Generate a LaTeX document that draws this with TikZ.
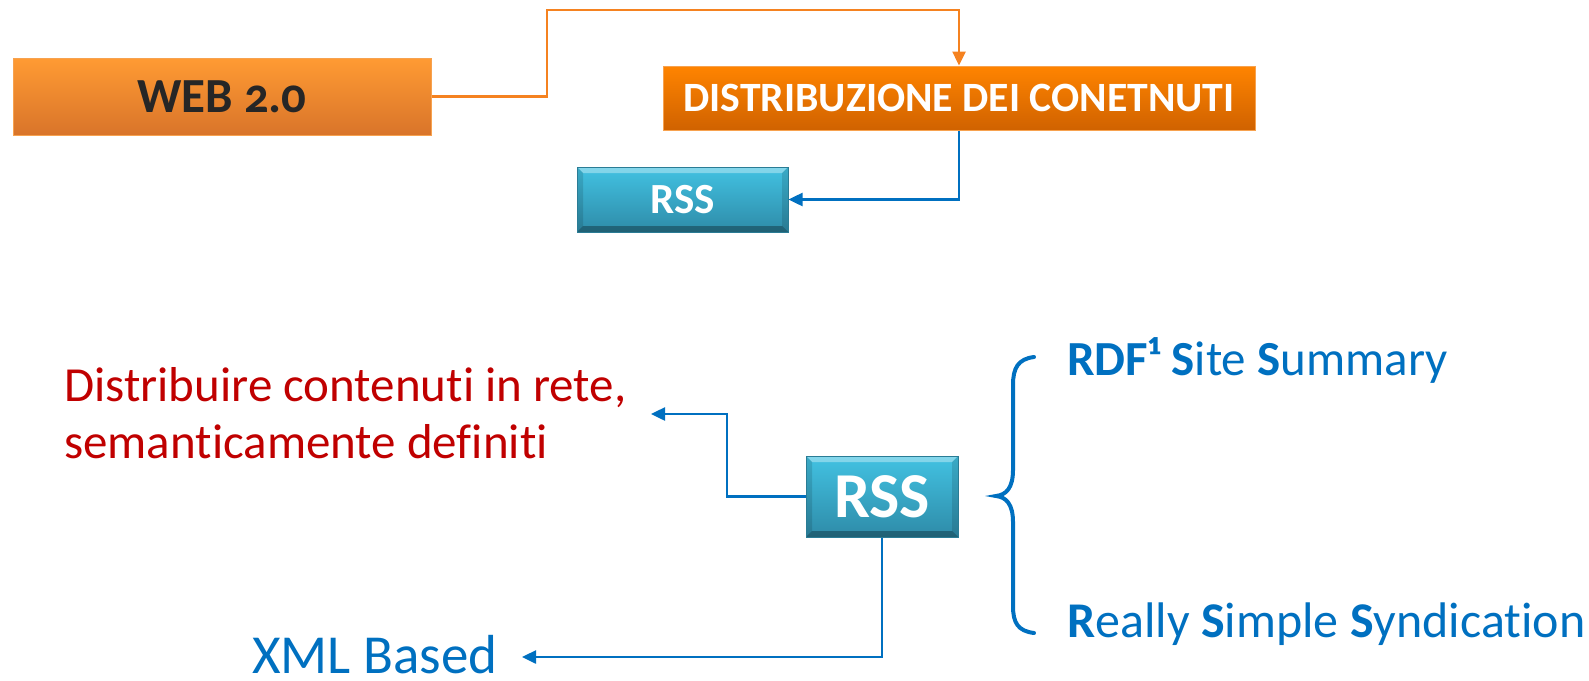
\documentclass[tikz,border=0pt]{standalone}
\usepackage{fontspec}
\setmainfont{Carlito}[RawFeature={-liga;-clig;-calt;-dlig}]
\newfontfamily\oldnum{Carlito}[Numbers=OldStyle]
\usetikzlibrary{arrows.meta,calc}
\definecolor{orTop}{HTML}{FF9B33}
\definecolor{orBot}{HTML}{D9742A}
\definecolor{orEdge}{HTML}{F7A24F}
\definecolor{dTop}{HTML}{FF8400}
\definecolor{dBot}{HTML}{D06200}
\definecolor{cyTop}{HTML}{42C2E2}
\definecolor{cyBot}{HTML}{2E8BA8}
\definecolor{cyEdge}{HTML}{2A7C95}
\definecolor{lineOr}{HTML}{F58220}
\definecolor{lineBl}{HTML}{0070C0}
\definecolor{txRed}{HTML}{C00000}
\definecolor{txDark}{HTML}{262626}
\tikzset{
  webbox/.style={draw=orEdge, line width=1pt, top color=orTop, bottom color=orBot, inner sep=0pt},
  distbox/.style={draw=orEdge, line width=1pt, top color=dTop, bottom color=dBot, inner sep=0pt},
  cyanbox/.style={draw=cyEdge, line width=1pt, top color=cyTop, bottom color=cyBot, inner sep=0pt,
    text=white, font=\bfseries,
    path picture={
      \fill[white,opacity=0.35] (path picture bounding box.north west) -- (path picture bounding box.north east)
        -- ([shift={(-6pt,-6pt)}]path picture bounding box.north east) -- ([shift={(6pt,-6pt)}]path picture bounding box.north west) -- cycle;
      \fill[black,opacity=0.3] (path picture bounding box.south west) -- (path picture bounding box.south east)
        -- ([shift={(-6pt,6pt)}]path picture bounding box.south east) -- ([shift={(6pt,6pt)}]path picture bounding box.south west) -- cycle;
      \fill[black,opacity=0.12] (path picture bounding box.north west) -- ([shift={(6pt,-6pt)}]path picture bounding box.north west)
        -- ([shift={(6pt,6pt)}]path picture bounding box.south west) -- (path picture bounding box.south west) -- cycle;
      \fill[black,opacity=0.12] (path picture bounding box.north east) -- ([shift={(-6pt,-6pt)}]path picture bounding box.north east)
        -- ([shift={(-6pt,6pt)}]path picture bounding box.south east) -- (path picture bounding box.south east) -- cycle;
    }},
  orconn/.style={draw=lineOr, line width=2.5pt, -{Triangle[length=14pt,width=13pt]}},
  blconn/.style={draw=lineBl, line width=2.5pt, -{Triangle[length=14pt,width=13pt]}},
  bigtext/.style={font=\fontsize{49}{57}\selectfont, inner sep=0pt}
}
\begin{document}
\begin{tikzpicture}[x=1pt,y=-1pt]
\useasboundingbox (0,0) rectangle (1589,680);
% boxes
\node[webbox, minimum width=418pt, minimum height=77pt, text=txDark, font=\fontsize{49}{56}\selectfont\bfseries] (web) at (222,96.5) {WEB {\oldnum 2.0}};
\node[distbox, minimum width=592pt, minimum height=64pt, text=white, font=\fontsize{41.7}{48}\selectfont\bfseries] (dist) at (959,98) {DISTRIBUZIONE DEI CONETNUTI};
\node[cyanbox, minimum width=211pt, minimum height=65pt, font=\fontsize{43}{48}\selectfont\bfseries] (rss1) at (682.5,199.5) {RSS};
\node[cyanbox, minimum width=152pt, minimum height=81pt, font=\fontsize{64}{70}\selectfont\bfseries] (rss2) at (882,496.5) {RSS};
% texts
\node[bigtext, text=txRed, align=left, anchor=north west] (red) at (64,367) {Distribuire contenuti in rete,\\semanticamente definiti};
\node[bigtext, text=lineBl, anchor=base west, text depth=0pt, font=\fontsize{55}{60}\selectfont] (xml) at (252,673) {XML Based};
\node[bigtext, text=lineBl, anchor=base west] (rdf) at (1067,375) {\textbf{RDF¹ S}ite \textbf{S}ummary};
\node[bigtext, text=lineBl, anchor=base west, font=\fontsize{50}{57}\selectfont] (rsd) at (1067,637) {\textbf{R}eally \textbf{S}imple \textbf{S}yndication};
% connectors
\coordinate (o1) at (547,10);
\draw[orconn] (web.east) -| (o1) -| (dist.north);
\draw[blconn] (dist.south) |- (rss1.east);
\coordinate (b1) at (727,414);
\coordinate (redtip) at (651,414);
\draw[blconn] (rss2.west) -| (b1) -- (redtip);
\coordinate (xmltip) at (522,657);
\draw[blconn] (rss2.south) |- (xmltip);
% brace
\draw[lineBl, line width=4pt, line cap=round]
  (1034,357) .. controls (1018,359) and (1013,368) .. (1013,385) -- (1013,470)
  .. controls (1013,488) and (1006,495) .. (996,496)
  .. controls (1006,497) and (1013,504) .. (1013,522) -- (1013,606)
  .. controls (1013,623) and (1018,631) .. (1034,633);
\end{tikzpicture}
\end{document}
